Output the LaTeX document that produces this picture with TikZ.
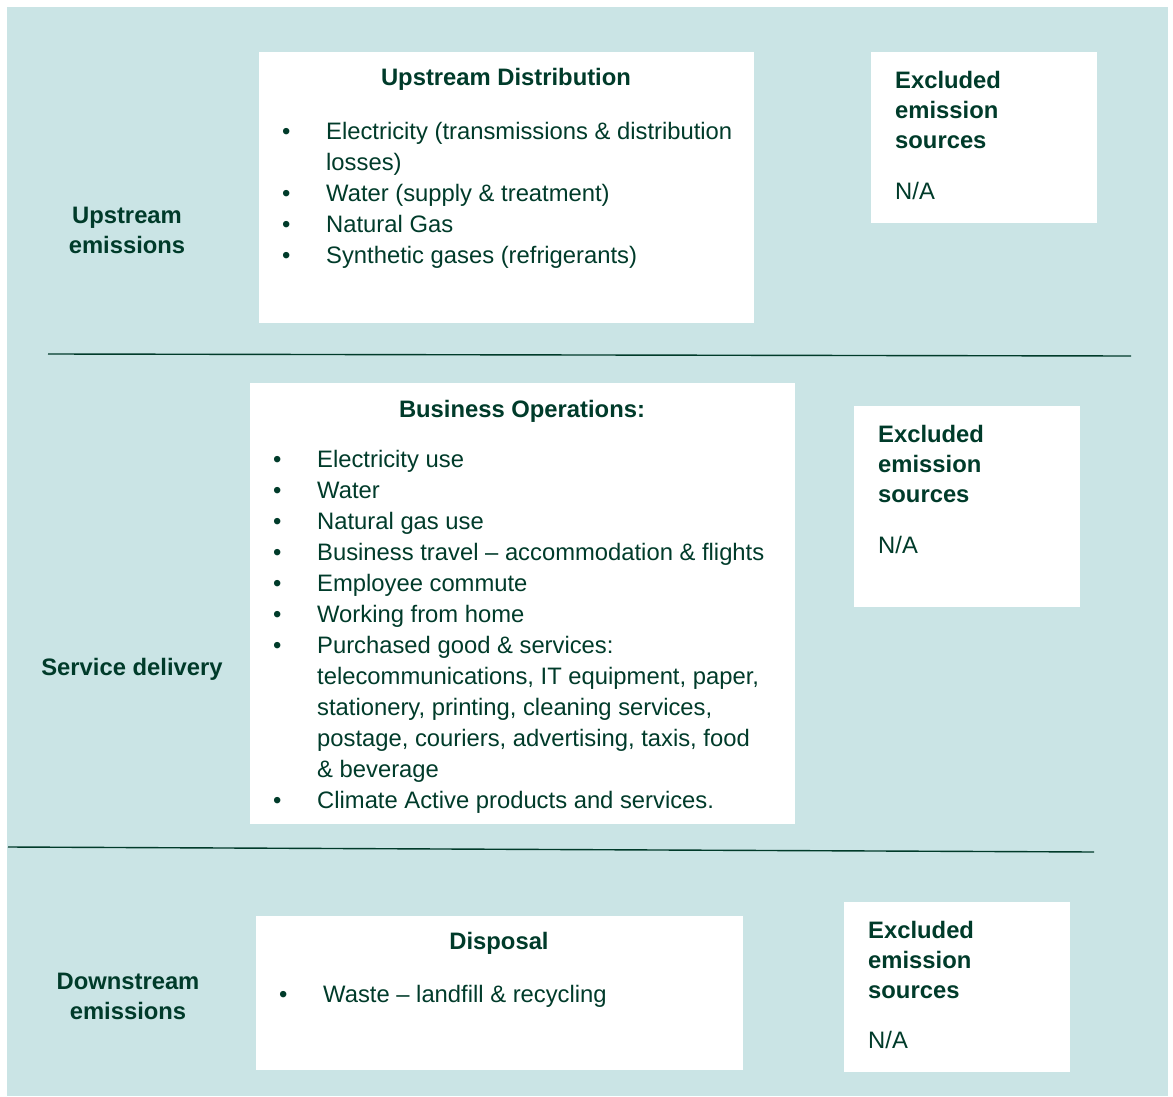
\documentclass[tikz,border=0pt]{standalone}
\usepackage{fontspec}
\setmainfont{Liberation Sans}
\usepackage{tikz}

\definecolor{bgteal}{HTML}{CAE4E5}
\definecolor{ink}{HTML}{003B2A}
\newcommand{\itm}{\makebox[44pt][l]{\textbullet}}
\newcommand{\cnt}{\hspace*{44pt}}

\begin{document}
\begin{tikzpicture}[x=1pt,y=-1pt,
  every node/.style={text=ink,inner sep=0pt,font=\fontsize{23.8}{31}\selectfont},
  box/.style={fill=white,anchor=north west},
  head/.style={font=\fontsize{23.8}{30}\selectfont\bfseries,anchor=base},
  lst/.style={align=left,anchor=base west},
  excl/.style={font=\fontsize{23.8}{30}\selectfont\bfseries,align=left,anchor=base west},
  side/.style={font=\fontsize{23.8}{30}\selectfont\bfseries,align=center,anchor=base},
  rule/.style={draw=ink,line width=1.4pt}]

\useasboundingbox (0,0) rectangle (1173,1097);
\fill[bgteal] (7,7) rectangle (1168,1096);

% upstream (multi-line nodes sit on their last baseline)
\node[box,minimum width=495pt,minimum height=271pt] (updist) at (259,52) {};
\node[box,minimum width=226pt,minimum height=171pt] (upexcl) at (871,52) {};
\node[head] (updisthead) at (506,86) {Upstream Distribution};
\node[lst] (updistlist) at (282,263) {\itm Electricity (transmissions \& distribution\\
  \cnt losses)\\
  \itm Water (supply \& treatment)\\
  \itm Natural Gas\\
  \itm Synthetic gases (refrigerants)};
\node[excl] (upexcltext) at (895,149) {Excluded\\emission\\sources};
\node[anchor=base west] (upna) at (895,200) {N/A};
\node[side] (upside) at (127,253) {Upstream\\emissions};

\coordinate (rule1a) at (48,354);
\coordinate (rule1b) at (1131,356);
\draw[rule] (rule1a) -- (rule1b);

% service delivery
\node[box,minimum width=545pt,minimum height=441pt] (busops) at (250,383) {};
\node[box,minimum width=226pt,minimum height=201pt] (svexcl) at (854,406) {};
\node[head] (busopshead) at (522,417) {Business Operations:};
\node[lst] (busopslist) at (273,808) {\itm Electricity use\\
  \itm Water\\
  \itm Natural gas use\\
  \itm Business travel -- accommodation \& flights\\
  \itm Employee commute\\
  \itm Working from home\\
  \itm Purchased good \& services:\\
  \cnt telecommunications, IT equipment, paper,\\
  \cnt stationery, printing, cleaning services,\\
  \cnt postage, couriers, advertising, taxis, food\\
  \cnt \& beverage\\
  \itm Climate Active products and services.};
\node[excl] (svexcltext) at (878,502) {Excluded\\emission\\sources};
\node[anchor=base west] (svna) at (878,553) {N/A};
\node[side] (svside) at (132,675) {Service delivery};

\coordinate (rule2a) at (8,847);
\coordinate (rule2b) at (1094,852);
\draw[rule] (rule2a) -- (rule2b);

% downstream
\node[box,minimum width=487pt,minimum height=154pt] (disposal) at (256,916) {};
\node[box,minimum width=226pt,minimum height=170pt] (dnexcl) at (844,902) {};
\node[head] (disposalhead) at (499,949) {Disposal};
\node[lst] (disposallist) at (279,1002) {\itm Waste -- landfill \& recycling};
\node[excl] (dnexcltext) at (868,998) {Excluded\\emission\\sources};
\node[anchor=base west] (dnna) at (868,1048) {N/A};
\node[side] (dnside) at (128,1019) {Downstream\\emissions};

\end{tikzpicture}
\end{document}
